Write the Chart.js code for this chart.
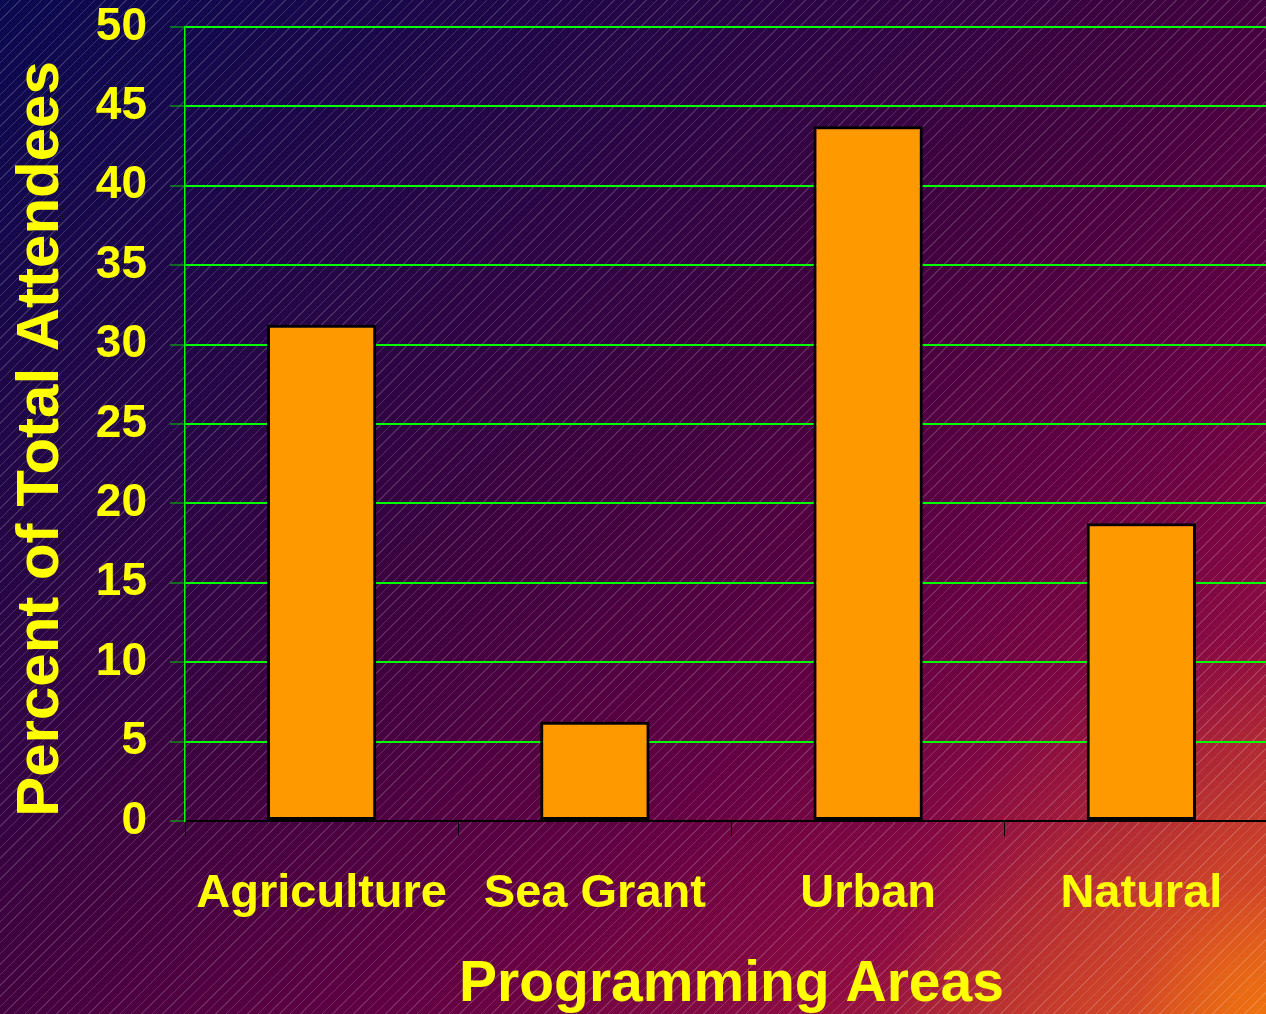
<!DOCTYPE html>
<html>
<head>
<meta charset="utf-8">
<script src="https://cdn.jsdelivr.net/npm/chart.js@4/dist/chart.umd.min.js"></script>
<style>
  html, body { margin: 0; padding: 0; overflow: hidden; background: #0b0a4d; }
  #frame {
    position: relative;
    width: 1266px;
    height: 1014px;
    overflow: hidden;
    background:
      repeating-linear-gradient(135deg,
        rgba(255,255,255,0) 0px, rgba(255,255,255,0) 6.5px,
        rgba(255,255,255,0.16) 6.5px, rgba(255,255,255,0.16) 7.5px),
      radial-gradient(circle at 100% 100%,
        rgba(240,115,15,0.95) 0px, rgba(220,80,35,0.55) 130px, rgba(200,40,55,0) 380px),
      linear-gradient(to bottom right,
        #0a0a50 0%, #260646 28%, #40013f 48%, #620043 66%, #8e0c42 82%, #c43a2c 94%, #e0601a 100%);
  }
  #wrap { position: absolute; left: 0; top: 0; width: 1280px; height: 1014px; }
</style>
</head>
<body>
<div id="frame">
  <div id="wrap"><canvas id="chart" width="1280" height="1014"></canvas></div>
</div>
<script>
// Share of total attendees by programming area
const categories = ['Agriculture', 'Sea Grant', 'Urban', 'Natural'];
const percentValues = [31.25, 6.25, 43.75, 18.75];
const yTickValues = [0, 5, 10, 15, 20, 25, 30, 35, 40, 45, 50];
const xAxisTitle = 'Programming Areas';
const yAxisTitle = 'Percent of Total Attendees';

const YELLOW = '#ffff00';
const FONT = "'Liberation Sans', Arial, sans-serif";

// Vertical axis title, drawn rotated beside the value ticks
const yTitlePlugin = {
  id: 'yTitle',
  afterDraw(chart) {
    const ctx = chart.ctx;
    ctx.save();
    ctx.translate(58, 439);
    ctx.rotate(-Math.PI / 2);
    ctx.font = 'bold 60px ' + FONT;
    ctx.fillStyle = YELLOW;
    ctx.textAlign = 'center';
    ctx.textBaseline = 'alphabetic';
    ctx.fillText(yAxisTitle, 0, 0);
    ctx.restore();
  }
};

new Chart(document.getElementById('chart'), {
  type: 'bar',
  data: {
    labels: categories,
    datasets: [{
      data: percentValues,
      backgroundColor: '#ff9900',
      borderColor: '#000000',
      borderWidth: 3,
      borderSkipped: false,
      barPercentage: 0.4,
      categoryPercentage: 1.0
    }]
  },
  options: {
    responsive: false,
    animation: false,
    devicePixelRatio: 1,
    layout: { padding: { top: 27, right: 2, left: 0, bottom: 0 } },
    plugins: {
      legend: { display: false },
      tooltip: { enabled: false }
    },
    scales: {
      x: {
        offset: true,
        grid: {
          offset: true,
          drawOnChartArea: false,
          drawTicks: true,
          tickLength: 15,
          tickColor: '#000000',
          tickWidth: 1
        },
        border: { display: true, color: '#000000', width: 2 },
        ticks: {
          color: YELLOW,
          padding: 35,
          maxRotation: 0,
          autoSkip: false,
          font: { family: FONT, size: 47, weight: 'bold', lineHeight: 1 }
        },
        title: {
          display: true,
          text: xAxisTitle,
          color: YELLOW,
          padding: { top: 0, bottom: 0 },
          font: { family: FONT, size: 57, weight: 'bold', lineHeight: 1 }
        },
        afterFit(scale) {
          scale.height = 193;
          scale.paddingLeft = 0;
          scale.paddingRight = 0;
        }
      },
      y: {
        min: 0,
        max: 50,
        afterBuildTicks(scale) {
          scale.ticks = yTickValues.map(v => ({ value: v }));
        },
        grid: {
          color: ctx => (ctx.tick && ctx.tick.value === 0) ? 'rgba(0,0,0,0)' : '#00ff00',
          lineWidth: 2,
          drawTicks: true,
          tickLength: 15,
          tickColor: '#00d000',
          tickWidth: 1
        },
        border: { display: true, color: '#00ff00', width: 1.5 },
        ticks: {
          color: YELLOW,
          padding: 23,
          font: { family: FONT, size: 46, weight: 'bold', lineHeight: 1 }
        },
        afterFit(scale) {
          scale.width = 185;
          scale.paddingTop = 0;
          scale.paddingBottom = 0;
        }
      }
    }
  },
  plugins: [yTitlePlugin]
});
</script>
</body>
</html>
